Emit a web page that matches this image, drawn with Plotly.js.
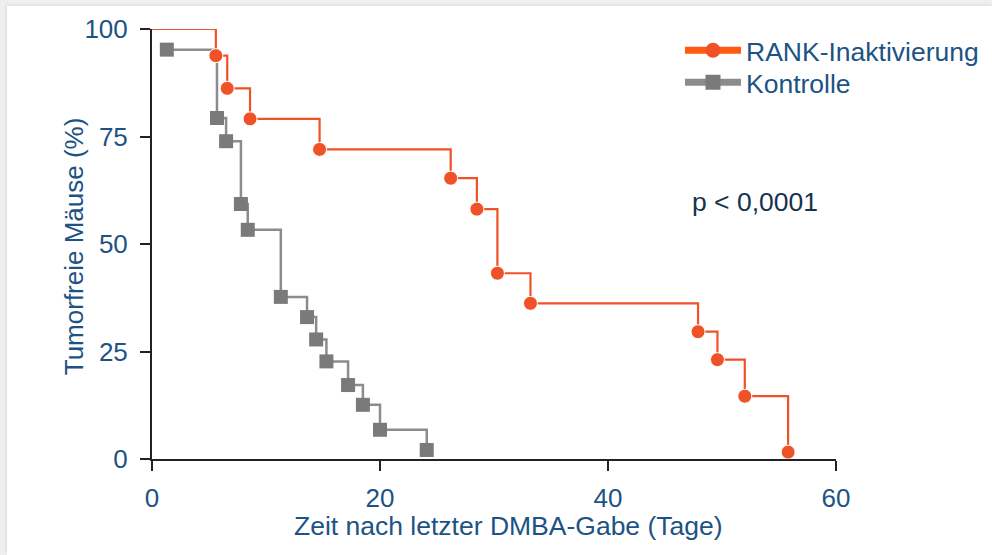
<!DOCTYPE html>
<html>
<head>
<meta charset="utf-8">
<script src="https://cdn.plot.ly/plotly-3.0.1.min.js"></script>
<style>
  html, body { margin: 0; padding: 0; background: #efefef; }
  #frame { position: absolute; left: 7px; top: 6px; right: 0; bottom: 0; background: #ffffff; box-shadow: -1px -1px 3px rgba(0,0,0,0.08); }
  #chart { position: absolute; left: 0; top: 0; width: 992px; height: 555px; }
</style>
</head>
<body>
<div id="frame"></div>
<div id="chart"></div>
<script>
// Reference data
var seriesNames = ["RANK-Inaktivierung", "Kontrolle"];
var rankDays = [0, 5.6, 6.6, 8.6, 14.7, 26.2, 28.5, 30.3, 33.2, 47.9, 49.6, 52.0, 55.8];
var rankPct  = [100, 93.8, 86.2, 79.1, 72.0, 65.3, 58.1, 43.2, 36.2, 29.6, 23.1, 14.6, 1.6];
var ctrlDays = [1.3, 5.7, 6.5, 7.8, 8.4, 11.3, 13.6, 14.4, 15.3, 17.2, 18.5, 20.0, 24.1];
var ctrlPct  = [95.2, 79.3, 73.9, 59.3, 53.3, 37.7, 33.0, 27.8, 22.7, 17.2, 12.6, 6.8, 2.1];
var xTicks = [0, 20, 40, 60];
var yTicks = [0, 25, 50, 75, 100];
var xTitle = "Zeit nach letzter DMBA-Gabe (Tage)";
var yTitle = "Tumorfreie Mäuse (%)";
var pText = "p < 0,0001";

var red = "#ee5226";
var redLegend = "#ff5a0e";
var grayLine = "#8c8c8c";
var grayMarker = "#7a7a7a";
var txtBlue = "#1c5384";
var fontFam = "Liberation Sans, Arial, sans-serif";

var rankSizes = rankDays.map(function (d, i) { return i === 0 ? 0 : 14; });

var traces = [
  {
    x: ctrlDays, y: ctrlPct, type: "scatter", mode: "lines+markers",
    line: { shape: "hv", color: grayLine, width: 2.5 },
    marker: { symbol: "square", size: 14, color: grayMarker, opacity: 1 },
    showlegend: false, cliponaxis: false, hoverinfo: "x+y"
  },
  {
    x: rankDays, y: rankPct, type: "scatter", mode: "lines+markers",
    line: { shape: "hv", color: red, width: 2.2 },
    marker: { symbol: "circle", size: rankSizes, color: red, opacity: 1 },
    showlegend: false, cliponaxis: false, hoverinfo: "x+y"
  },
  {
    x: [null], y: [null], type: "scatter", mode: "lines+markers", name: seriesNames[0],
    line: { color: redLegend, width: 7 }, marker: { symbol: "circle", size: 15, color: red },
    showlegend: true, legend: "legend"
  },
  {
    x: [null], y: [null], type: "scatter", mode: "lines+markers", name: seriesNames[1],
    line: { color: grayLine, width: 7 }, marker: { symbol: "square", size: 15, color: grayMarker },
    showlegend: true, legend: "legend2"
  }
];

function legendAt(yTop) {
  return {
    xref: "container", yref: "container",
    x: 680 / 992, y: 1 - yTop / 555, xanchor: "left", yanchor: "top",
    bgcolor: "rgba(0,0,0,0)", itemwidth: 56,
    font: { family: fontFam, size: 26.5, color: txtBlue }
  };
}

var layout = {
  width: 992, height: 555,
  margin: { l: 152, r: 156, t: 29, b: 96, pad: 0, autoexpand: false },
  paper_bgcolor: "rgba(0,0,0,0)",
  plot_bgcolor: "rgba(0,0,0,0)",
  font: { family: fontFam, color: txtBlue, size: 26 },
  showlegend: true,
  legend: legendAt(26.5),
  legend2: legendAt(58.5),
  xaxis: {
    range: [0, 60], tickvals: xTicks, ticktext: xTicks.map(String),
    showgrid: false, zeroline: false, showline: true, linecolor: "#222", linewidth: 2,
    ticks: "outside", ticklen: 10, tickwidth: 2, tickcolor: "#222",
    ticklabelstandoff: 5,
    tickfont: { family: fontFam, size: 26, color: txtBlue },
    fixedrange: true
  },
  yaxis: {
    range: [0, 100], tickvals: yTicks, ticktext: yTicks.map(String),
    showgrid: false, zeroline: false, showline: true, linecolor: "#222", linewidth: 2,
    ticks: "outside", ticklen: 10, tickwidth: 2, tickcolor: "#222",
    ticklabelstandoff: 7,
    tickfont: { family: fontFam, size: 26, color: txtBlue },
    fixedrange: true
  },
  annotations: [
    { x: 52.9, y: 59.7, xref: "x", yref: "y", text: pText, showarrow: false,
      font: { family: fontFam, size: 26.5, color: "#17324f" } },
    { x: 0.521, y: -0.155, xref: "paper", yref: "paper", text: xTitle, showarrow: false,
      xanchor: "center", yanchor: "middle",
      font: { family: fontFam, size: 26.5, color: txtBlue } },
    { x: -0.1145, y: 0.494, xref: "paper", yref: "paper", text: yTitle, showarrow: false,
      textangle: -90, xanchor: "center", yanchor: "middle",
      font: { family: fontFam, size: 26, color: txtBlue } }
  ]
};

Plotly.newPlot("chart", traces, layout, { displayModeBar: false, staticPlot: true });
</script>
</body>
</html>
